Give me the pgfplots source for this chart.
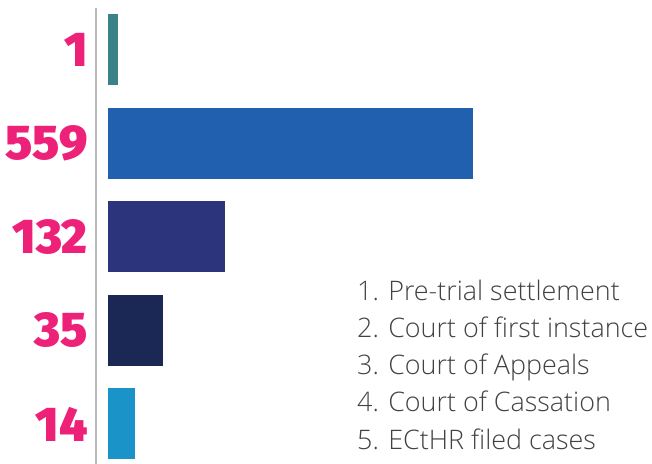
\documentclass[border=0pt]{standalone}
\usepackage{fontspec}
\usepackage{pgfplots}
\pgfplotsset{compat=1.18}

\def\numname{}
\IfFontExistsTF{Lato Black}{\def\numname{Lato Black}}{}
\IfFontExistsTF{Poppins Black}{\def\numname{Poppins Black}}{}
\IfFontExistsTF{Fira Sans Black}{\def\numname{Fira Sans Black}}{}
\IfFontExistsTF{Noto Sans Black}{\def\numname{Noto Sans Black}}{}
\IfFontExistsTF{Open Sans ExtraBold}{\def\numname{Open Sans ExtraBold}}{}
\ifx\numname\empty
  \newfontfamily\numfont{Open Sans Bold}[FakeBold=1.5]
\else
  \newfontfamily\numfont{\numname}
\fi

\def\legname{Open Sans}
\IfFontExistsTF{Lato Light}{\def\legname{Lato Light}}{}
\IfFontExistsTF{Noto Sans Light}{\def\legname{Noto Sans Light}}{}
\IfFontExistsTF{OpenSans-Light.ttf}{\def\legname{OpenSans-Light.ttf}}{}
\IfFontExistsTF{Open Sans Light}{\def\legname{Open Sans Light}}{}
\newfontfamily\legfont{\legname}

\definecolor{pinkn}{HTML}{EE2178}
\definecolor{c1}{HTML}{3A8287}
\definecolor{c2}{HTML}{2160AE}
\definecolor{c3}{HTML}{2C347B}
\definecolor{c4}{HTML}{1B2755}
\definecolor{c5}{HTML}{1A93C8}
\definecolor{legtext}{HTML}{424242}

\begin{document}
\begin{tikzpicture}
\begin{axis}[
    name=ax,
    scale only axis,
    width=556bp, height=456bp,
    xmin=-12, xmax=544,
    ymin=-0.443, ymax=4.428,
    y dir=reverse,
    hide x axis,
    axis y line*=left,
    y axis line style={draw=black!27, line width=1.6pt, -},
    xbar, bar width=71bp, bar shift=0pt,
    ytick={0,1,2,3,4},
    yticklabels={1,559,132,35,14},
    major tick length=0pt,
    yticklabel style={font=\numfont\fontsize{49}{49}\selectfont, text=pinkn,
        anchor=east, inner sep=0pt, xshift=-8bp},
    clip=false,
]
    % bar lengths as drawn (visual units), labels carry the counts
    \addplot[fill=c1, draw=none] coordinates {(10,0)};
    \addplot[fill=c2, draw=none] coordinates {(365,1)};
    \addplot[fill=c3, draw=none] coordinates {(117,2)};
    \addplot[fill=c4, draw=none] coordinates {(55,3)};
    \addplot[fill=c5, draw=none] coordinates {(27,4)};
\end{axis}
\begin{scope}[every node/.style={anchor=base west, inner sep=0pt, text=legtext,
    font=\legfont\fontsize{27}{30}\selectfont}]
  \node at ([shift={(261bp,163bp)}]ax.south west) {1. Pre-trial settlement};
  \node at ([shift={(261bp,126bp)}]ax.south west) {2. Court of first instance};
  \node at ([shift={(261bp,89bp)}]ax.south west) {3. Court of Appeals};
  \node at ([shift={(261bp,52bp)}]ax.south west) {4. Court of Cassation};
  \node at ([shift={(261bp,15bp)}]ax.south west) {5. ECtHR filed cases};
\end{scope}
\pgfresetboundingbox
\path ([shift={(-96bp,0bp)}]ax.south west) rectangle ++(652bp,464bp);
\end{tikzpicture}
\end{document}
